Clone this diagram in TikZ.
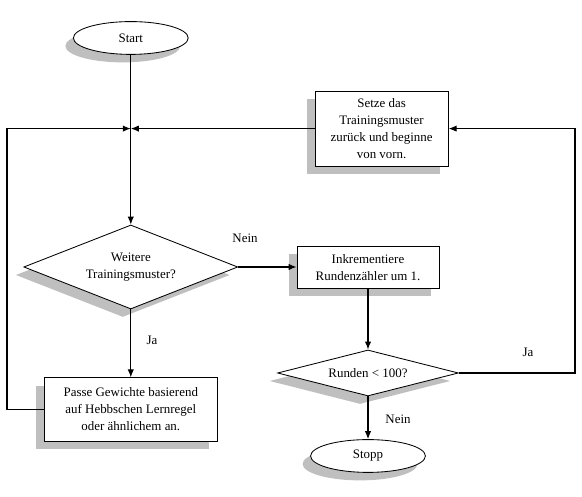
\documentclass[tikz,border=0pt]{standalone}
\usepackage{fontspec}
\setmainfont{Liberation Serif}
\usetikzlibrary{arrows.meta, shapes.geometric, shadows}

\begin{document}
\begin{tikzpicture}[font=\fontsize{9.2}{12}\selectfont,
	box/.style={draw, fill=white, line width=0.6pt, align=center,
	  drop shadow={shadow xshift=-0.2cm, shadow yshift=-0.2cm, fill=black!25, opacity=1}},
	term/.style={box, ellipse, minimum width=2.87cm, minimum height=0.82cm},
	ask/.style={box, diamond, inner sep=0pt},
	flow/.style={line width=0.8pt, -{Latex[length=2mm, width=1.6mm]}}]
	\useasboundingbox (0,0) rectangle (14.55,12.425);
	\node[term] (start) at (3.27,11.475) {Start};
	\node[box, minimum width=3.33cm, minimum height=1.88cm] (reset) at (9.54,9.21) {Setze das\\Trainingsmuster\\zurück und beginne\\von vorn.};
	\node[ask, aspect=2.55, minimum width=5.35cm, minimum height=2.1cm] (more) at (3.27,5.75) {Weitere\\Trainingsmuster?};
	\node[box, minimum width=3.55cm, minimum height=1.05cm] (incr) at (9.2,5.74) {Inkrementiere\\Rundenzähler um 1.};
	\node[ask, aspect=3.93, minimum width=4.52cm, minimum height=1.15cm] (rounds) at (9.2,3.1) {Runden < 100?};
	\node[term] (stop) at (9.2,1.025) {Stopp};
	\node[box, minimum width=4.33cm, minimum height=1.58cm] (adapt) at (3.27,2.19) {Passe Gewichte basierend\\auf Hebbschen Lernregel\\oder ähnlichem an.};
	\coordinate (join) at (start |- reset.west);
	\coordinate (lside) at (0.175,6);
	\coordinate (rside) at (14.375,6);
	% connectors
	\draw[flow] (start) -- (more);
	\draw[flow] (reset.west) -- (join);
	\draw[flow] (adapt.west) -- (adapt.west -| lside) |- (join);
	\draw[flow] (more.east) -- (more.east -| incr.west);
	\draw[flow] (more) -- (adapt);
	\draw[flow] (incr) -- (rounds);
	\draw[flow] (rounds) -- (stop);
	\draw[flow] (rounds.east) -- (rounds.east -| rside) |- (reset.east);
	% labels
	\node (nein1) at (6.125,6.475) {Nein};
	\node (ja1) at (3.8,3.925) {Ja};
	\node (ja2) at (13.2,3.625) {Ja};
	\node (nein2) at (9.95,1.95) {Nein};
\end{tikzpicture}
\end{document}
